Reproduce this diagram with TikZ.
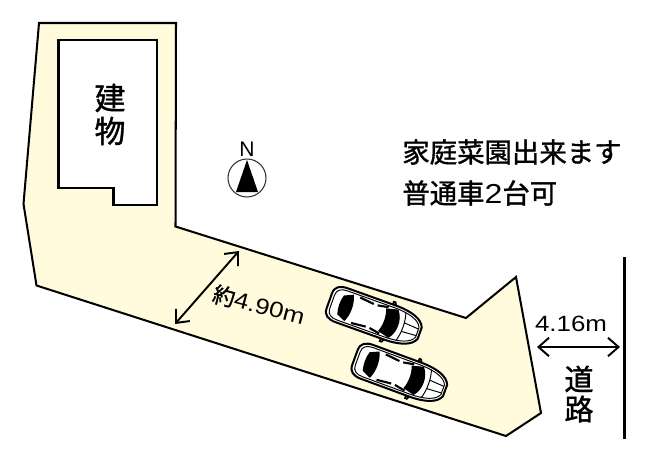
\documentclass[tikz,border=0pt]{standalone}
\usepackage{fontspec}
\setmainfont{Noto Sans CJK JP}[FakeBold=1.2]
\newfontfamily\latinwide{Liberation Sans}[FakeStretch=1.17]
\newfontfamily\northfont{Liberation Sans}
\usetikzlibrary{arrows.meta}
\tikzset{
  lot/.style={draw=black, line width=1.15pt, fill=lotyellow, line join=miter},
  house/.style={draw=black, line width=1.15pt, fill=white},
  bigtext/.style={font=\fontsize{17.6}{17}\selectfont, inner sep=0pt},
  roadtext/.style={font=\fontsize{16.6}{16}\selectfont, inner sep=0pt},
  notetext/.style={font=\fontsize{15.6}{16}\selectfont, inner sep=0pt, anchor=west},
  sizetext/.style={font=\fontsize{12.6}{13}\selectfont, inner sep=0pt},
  sizearrow/.style={line width=1.1pt, {Straight Barb[length=6pt,width=10.5pt]}-{Straight Barb[length=6pt,width=10.5pt]}},
  pics/car/.style={code={
    \draw[line width=0.9pt, fill=black!60] (13,-17) -- (13,-21) -- (15,-21) -- (17,-17) (13,17) -- (13,21) -- (15,21) -- (17,17);
    \draw[line width=1.15pt, fill=white] (-48,-8) .. controls (-48,-15) and (-43,-18) .. (-35,-18) -- (16,-18)
      .. controls (33,-18) and (45,-14) .. (48,-6) -- (48,6)
      .. controls (45,14) and (33,18) .. (16,18) -- (-35,18)
      .. controls (-43,18) and (-48,15) .. (-48,8) -- cycle;
    \draw[line width=0.55pt] (-45,-7) .. controls (-45,-13) and (-41,-15.5) .. (-34,-15.5) -- (16,-15.5)
      .. controls (31,-15.5) and (43,-12) .. (45.5,-5) -- (45.5,5)
      .. controls (43,12) and (31,15.5) .. (16,15.5) -- (-34,15.5)
      .. controls (-41,15.5) and (-45,13) .. (-45,7) -- cycle;
    \fill (-36,-10) .. controls (-38,-4) and (-38,4) .. (-36,10) -- (-27,14) .. controls (-23,6) and (-23,-6) .. (-27,-14) -- cycle;
    \fill (8,-12) .. controls (11,-5) and (11,5) .. (8,12) -- (20,15) .. controls (27,7) and (27,-7) .. (20,-15) -- cycle;
    \draw[line width=1.2pt] (-20,-13.5) -- (-5,-12) (-1,-12) -- (10,-14) (-20,13.5) -- (-5,12) (-1,12) -- (10,14);
    \draw[line width=0.55pt] (28,-15) .. controls (31,-6) and (31,6) .. (28,15) (30.5,-4.5) -- (45.5,-3.5) (30.5,4.5) -- (45.5,3.5);
  }}
}
\definecolor{lotyellow}{HTML}{FFFBDC}
\begin{document}
\begin{tikzpicture}[x=0.02cm, y=-0.02cm]
\useasboundingbox (0,0) rectangle (650,454);

% lot and building
\draw[lot] (39,23) -- (176,23) -- (175.5,226.5) -- (466,318) -- (516,277) -- (541,413) -- (506,436) -- (36.5,285.5) -- (23.5,204) -- cycle;
\draw[house] (58.5,40) -- (157,40) -- (157,205) -- (113.5,205) -- (113.5,188) -- (58.5,188) -- cycle;
\node[bigtext] (ken) at (110,98) {建};
\node[bigtext] (mono) at (110,131) {物};

% north mark
\node[font=\northfont\fontsize{12}{12}\selectfont, inner sep=0pt] (north) at (247,149) {N};
\draw[line width=0.6pt, draw=black!80] (247,178) circle (19);
\fill (247,160) -- (258,192) -- (236,192) -- cycle;

% notes
\node[notetext] (garden) at (402,152) {家庭菜園出来ます};
\node[notetext] (parking) at (402,193) {普通車{\latinwide 2}台可};

% width of the lot
\coordinate (lotA) at (175,324);
\coordinate (lotB) at (239,251);
\draw[sizearrow] (lotA) -- (lotB);
\node[sizetext, rotate=-14.5] (lotwidth) at (259,305) {約{\latinwide 4.90m}};

% cars
\pic[rotate=-19.7] (carA) at (374.5,317) {car};
\pic[rotate=-20.2] (carB) at (400,374) {car};

% road
\coordinate (roadT) at (624.5,257);
\coordinate (roadB) at (624.5,439);
\draw[line width=1.15pt] (roadT) -- (roadB);
\coordinate (roadL) at (537,347);
\coordinate (roadR) at (620,347);
\draw[sizearrow] (roadL) -- (roadR);
\node[sizetext] (roadwidth) at (571,324) {\latinwide 4.16m};
\node[roadtext] (michi) at (579,379) {道};
\node[roadtext] (ro) at (579,409) {路};
\end{tikzpicture}
\end{document}
